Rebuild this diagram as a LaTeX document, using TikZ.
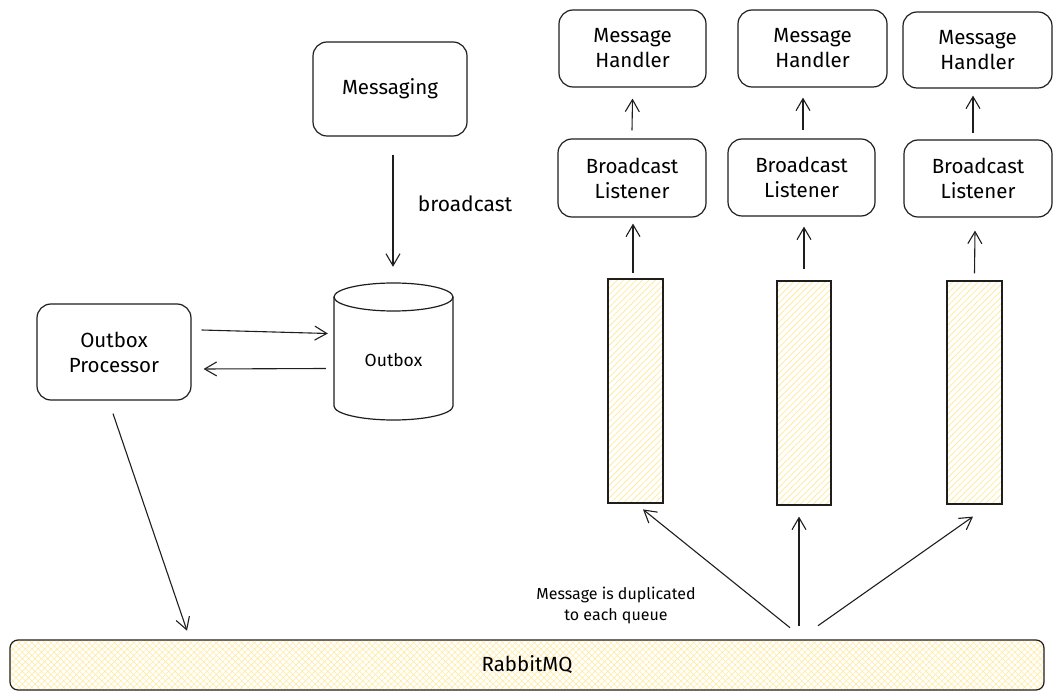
\documentclass[tikz,border=0pt]{standalone}
\usepackage{fontspec}
\setmainfont{Fira Sans}
\usetikzlibrary{arrows.meta,patterns.meta}
\definecolor{hatchy}{HTML}{FFEBA0}
\definecolor{inky}{HTML}{1E1E1E}
\tikzset{
  box/.style={draw=inky,line width=1.2pt,rounded corners=14pt,fill=white,align=center,font=\fontsize{20.5}{25}\selectfont,inner sep=0pt},
  queue/.style={draw=inky,line width=1.2pt,preaction={fill=white},pattern={Lines[angle=45,distance=4.5pt,line width=0.8pt]},pattern color=hatchy,inner sep=0pt},
  bus/.style={draw=inky,line width=1.2pt,rounded corners=8pt,preaction={fill=white},pattern={Hatch[angle=45,distance=4.5pt,line width=0.6pt]},pattern color=hatchy,inner sep=0pt,font=\fontsize{20.5}{25}\selectfont},
  arr/.style={draw=inky,line width=1.1pt,-{Straight Barb[length=12pt,width=14pt,line width=1.1pt]}},
  lbl/.style={font=\fontsize{21}{25}\selectfont,inner sep=0pt},
  note/.style={font=\fontsize{16}{21}\selectfont,align=center,inner sep=0pt}
}
\begin{document}
\begin{tikzpicture}[x=1pt,y=-1pt]
\useasboundingbox (0,0) rectangle (1063,700);
% top row
\node[box,minimum width=147pt,minimum height=77pt] (mh1) at (632.5,48.5) {Message\\Handler};
\node[box,minimum width=149pt,minimum height=77pt] (mh2) at (812.5,48.5) {Message\\Handler};
\node[box,minimum width=149pt,minimum height=76pt] (mh3) at (977.5,50) {Message\\Handler};
\node[box,minimum width=148pt,minimum height=78pt] (bl1) at (632,178) {Broadcast\\Listener};
\node[box,minimum width=147pt,minimum height=77pt] (bl2) at (801.5,177.5) {Broadcast\\Listener};
\node[box,minimum width=148pt,minimum height=77pt] (bl3) at (978,178.5) {Broadcast\\Listener};
% queues
\node[queue,minimum width=55pt,minimum height=224pt] (q1) at (635.5,391) {};
\node[queue,minimum width=54pt,minimum height=224pt] (q2) at (804,393) {};
\node[queue,minimum width=55pt,minimum height=223pt] (q3) at (974.5,392.5) {};
% left part
\node[box,minimum width=154pt,minimum height=94pt] (msg) at (390,89) {Messaging};
\node[box,minimum width=154pt,minimum height=96pt] (proc) at (114,352) {Outbox\\Processor};
% cylinder
\fill[white] (334,297) -- (334,406) arc[start angle=180,end angle=360,x radius=59.5pt,y radius=14pt] -- (453,297) -- cycle;
\draw[inky,line width=1.2pt] (334,297) -- (334,406) arc[start angle=180,end angle=360,x radius=59.5pt,y radius=14pt] -- (453,297);
\draw[inky,line width=1.2pt,fill=white] (393.5,297) ellipse [x radius=59.5pt,y radius=14pt];
\node[minimum width=119pt,minimum height=137pt,inner sep=0pt] (outbox) at (393.5,351.5) {};
\node[font=\fontsize{17.5}{20}\selectfont,inner sep=0pt] (outboxlbl) at (393.5,360) {Outbox};
% bus
\node[bus,minimum width=1034pt,minimum height=50pt] (rmq) at (527,665) {RabbitMQ};
% arrows
\draw[arr] ([yshift=8pt]bl1.north) -- ([yshift=-11pt]mh1.south);
\draw[arr] ([shift={(1.5pt,8pt)}]bl2.north) -- ([shift={(-9.5pt,-10pt)}]mh2.south);
\draw[arr] ([shift={(-5pt,6pt)}]bl3.north) -- ([shift={(-4.5pt,-7pt)}]mh3.south);
\draw[arr] ([shift={(-2.5pt,6pt)}]q1.north) -- ([shift={(1pt,-6pt)}]bl1.south);
\draw[arr] ([yshift=11pt]q2.north) -- ([shift={(2.5pt,-10pt)}]bl2.south);
\draw[arr] ([yshift=7pt]q3.north) -- ([shift={(-3pt,-13pt)}]bl3.south);
\draw[arr] ([shift={(3pt,-18pt)}]msg.south) -- ([shift={(-0.5pt,16pt)}]outbox.north);
\draw[arr] ([shift={(10pt,22pt)}]proc.east) -- ([shift={(-6pt,18pt)}]outbox.west);
\draw[arr] ([shift={(-8pt,-17pt)}]outbox.west) -- ([shift={(12pt,-17pt)}]proc.east);
\draw[arr] ([shift={(-1pt,-13pt)}]proc.south) -- ([shift={(-340pt,9pt)}]rmq.north);
\draw[arr] ([shift={(263pt,12pt)}]rmq.north) -- ([shift={(7.5pt,-6pt)}]q1.south);
\draw[arr] ([shift={(272pt,14pt)}]rmq.north) -- ([shift={(-5pt,-11pt)}]q2.south);
\draw[arr] ([shift={(291pt,14pt)}]rmq.north) -- ([shift={(-1.5pt,-12pt)}]q3.south);
% labels
\node[lbl] (bc) at (465,204) {broadcast};
\node[note] (dup) at (616,605) {Message is duplicated\\to each queue};
\end{tikzpicture}
\end{document}
